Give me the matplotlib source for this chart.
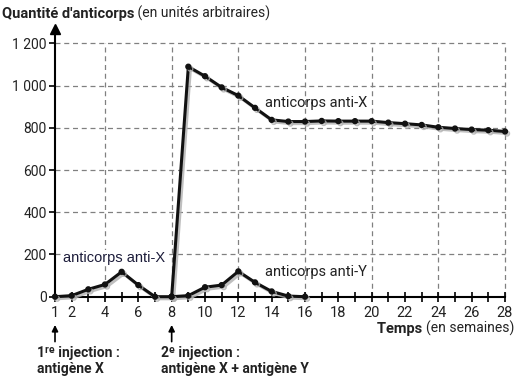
import numpy as np
import matplotlib.pyplot as plt
from matplotlib import patheffects as pe

plt.rcParams['font.family'] = ['Roboto', 'DejaVu Sans']

# data (semaines, unités arbitraires)
weeks_x1 = [1, 2, 3, 4, 5, 6, 7, 8]
anti_x1 = [0, 5, 35, 58, 118, 55, 0, 0]

weeks_x2 = [8, 9, 10, 11, 12, 13, 14, 15, 16, 17, 18, 19, 20, 21, 22, 23, 24, 25, 26, 27, 28]
anti_x2 = [0, 1090, 1045, 992, 953, 895, 838, 830, 830, 833, 832, 832, 832, 825, 820, 814,
           803, 797, 792, 789, 783]

weeks_y = [8, 9, 10, 11, 12, 13, 14, 15, 16]
anti_y = [0, 5, 45, 55, 120, 68, 25, 3, 0]

injection_weeks = [1, 8]
injection_text_x = [-0.1, 7.35]
injection_labels = ['1ʳᵉ injection :\nantigène X', '2ᵉ injection :\nantigène X + antigène Y']

xtick_labels = [1, 2, 4, 6, 8, 10, 12, 14, 16, 18, 20, 22, 24, 26, 28]
ytick_vals = [0, 200, 400, 600, 800, 1000, 1200]
grid_x = [4, 8, 12, 16, 20, 24, 28]
grid_y = [200, 400, 600, 800, 1000, 1200]

txt_col = '#222222'

fig = plt.figure(figsize=(5.14, 3.84), dpi=100)
ax = fig.add_axes([55 / 514, 87.3 / 384, 455 / 514, 268 / 384])
ax.set_xlim(1, 28.3)
ax.set_ylim(0, 1270)

# grid
ax.vlines(grid_x, 0, 1200, colors='#808080', linestyles=(0, (4, 3)), lw=0.9, zorder=1)
ax.hlines(grid_y, 1, 28, colors='#808080', linestyles=(0, (4, 3)), lw=0.9, zorder=1)

shadow = [pe.SimpleLineShadow(offset=(1.5, -1.5), shadow_color='#b0b0b0', alpha=0.8), pe.Normal()]
for xs, ys in [(weeks_x1, anti_x1), (weeks_x2, anti_x2), (weeks_y, anti_y)]:
    ax.plot(xs, ys, color='#111111', lw=2.2, marker='o', ms=3.5, zorder=3,
            path_effects=shadow, clip_on=False)

# spines
for s in ['top', 'right']:
    ax.spines[s].set_visible(False)
ax.spines['left'].set_linewidth(1.5)
ax.spines['bottom'].set_linewidth(1.5)
ax.spines['bottom'].set_bounds(1, 28)
ax.plot(0, 1, marker='^', color='black', ms=7, transform=ax.transAxes, clip_on=False)

ax.set_xticks(range(1, 29))
ax.set_xticklabels([str(w) if w in xtick_labels else '' for w in range(1, 29)])
ax.tick_params(axis='x', direction='inout', length=7, width=1.2, pad=3,
               labelsize=10.5, labelcolor=txt_col)
ax.set_yticks(ytick_vals)
ax.set_yticklabels([f'{v:,}'.replace(',', ' ') for v in ytick_vals])
ax.tick_params(axis='y', direction='out', length=4, width=1.2, pad=2,
               labelsize=10, labelcolor=txt_col)

# curve labels
ax.text(13.6, 917, 'anticorps anti-X', fontsize=10.5, color=txt_col, va='center')
ax.text(13.6, 117, 'anticorps anti-Y', fontsize=10.5, color=txt_col, va='center')
ax.text(1.5, 183, 'anticorps anti-X', fontsize=10.5, color='#1c1c3a', va='center',
        family='Liberation Sans',
        bbox=dict(facecolor='white', edgecolor='none', pad=0.5), zorder=4)

# title and axis label
t1 = fig.text(2 / 514, 1 - 18 / 384, "Quantité d'anticorps", fontsize=10.5,
              fontweight='bold', color=txt_col)
ax.annotate(' (en unités arbitraires)', xy=(1, 0), xycoords=t1, fontsize=10,
            color=txt_col, va='bottom')
t2 = fig.text(1.0, 1 - 333 / 384, '(en semaines)', fontsize=10, color=txt_col, ha='right')
ax.annotate('Temps ', xy=(0, 0), xycoords=t2, fontsize=10.5, fontweight='bold',
            color=txt_col, ha='right', va='bottom')

# injections
for w, tx, lab in zip(injection_weeks, injection_text_x, injection_labels):
    ax.annotate('', xy=(w, -0.095), xytext=(w, -0.178),
                xycoords=('data', 'axes fraction'),
                arrowprops=dict(arrowstyle='-|>', color='black', lw=1.2,
                                mutation_scale=9))
    ax.text(tx, -0.185, lab, transform=ax.get_xaxis_transform(), fontsize=10,
            fontweight='bold', color=txt_col, va='top', linespacing=1.15)

fig.savefig('out.png', dpi=100)
